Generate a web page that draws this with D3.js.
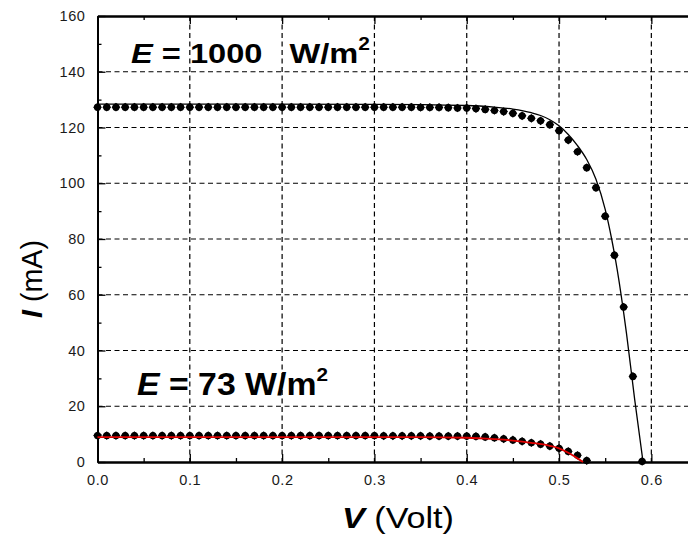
<!DOCTYPE html>
<html>
<head>
<meta charset="utf-8">
<script src="https://cdnjs.cloudflare.com/ajax/libs/d3/7.8.5/d3.min.js"></script>
<style>
  body { margin: 0; background: #fff; }
  svg { display: block; }
  text { font-family: "Liberation Sans", Arial, sans-serif; }
</style>
</head>
<body>
<script>
// measured points, E = 1000 W/m2
var voltHigh = [0.00, 0.01, 0.02, 0.03, 0.04, 0.05, 0.06, 0.07, 0.08, 0.09,
                0.10, 0.11, 0.12, 0.13, 0.14, 0.15, 0.16, 0.17, 0.18, 0.19,
                0.20, 0.21, 0.22, 0.23, 0.24, 0.25, 0.26, 0.27, 0.28, 0.29,
                0.30, 0.31, 0.32, 0.33, 0.34, 0.35, 0.36, 0.37, 0.38, 0.39,
                0.40, 0.41, 0.42, 0.43, 0.44, 0.45, 0.46, 0.47, 0.48, 0.49,
                0.50, 0.51, 0.52, 0.53, 0.54, 0.55, 0.56, 0.57, 0.58, 0.59];
var curHigh = [127.3, 127.3, 127.3, 127.3, 127.3, 127.3, 127.3, 127.3, 127.3, 127.3,
               127.3, 127.3, 127.3, 127.3, 127.3, 127.3, 127.3, 127.3, 127.3, 127.3,
               127.3, 127.3, 127.3, 127.3, 127.3, 127.3, 127.3, 127.3, 127.3, 127.3,
               127.3, 127.3, 127.3, 127.3, 127.3, 127.2, 127.2, 127.2, 127.1, 127.0,
               127.0, 126.8, 126.5, 126.1, 125.7, 125.1, 124.2, 123.3, 122.4, 121.0,
               118.8, 115.5, 111.3, 105.6, 98.4, 88.2, 74.2, 55.6, 30.7, 0.2];

// fitted curve, E = 1000 W/m2
var fitVoltHigh = [0.00, 0.30, 0.40, 0.43, 0.45, 0.47, 0.48, 0.49, 0.50, 0.51,
                   0.52, 0.53, 0.54, 0.55, 0.557, 0.563, 0.573, 0.582, 0.591];
var fitCurHigh = [128.4, 128.3, 127.9, 127.3, 126.6, 125.3, 124.3, 122.8, 120.6, 117.5,
                  113.5, 108.5, 101.4, 90.6, 80.0, 69.0, 46.3, 22.3, 0.0];

// measured points, E = 73 W/m2
var voltLow = [0.00, 0.01, 0.02, 0.03, 0.04, 0.05, 0.06, 0.07, 0.08, 0.09,
               0.10, 0.11, 0.12, 0.13, 0.14, 0.15, 0.16, 0.17, 0.18, 0.19,
               0.20, 0.21, 0.22, 0.23, 0.24, 0.25, 0.26, 0.27, 0.28, 0.29,
               0.30, 0.31, 0.32, 0.33, 0.34, 0.35, 0.36, 0.37, 0.38, 0.39,
               0.40, 0.41, 0.42, 0.43, 0.44, 0.45, 0.46, 0.47, 0.48, 0.49,
               0.50, 0.51, 0.52, 0.53];
var curLow = [9.5, 9.5, 9.5, 9.5, 9.5, 9.5, 9.5, 9.5, 9.5, 9.5,
              9.5, 9.5, 9.5, 9.5, 9.5, 9.5, 9.5, 9.5, 9.5, 9.5,
              9.5, 9.5, 9.5, 9.5, 9.5, 9.5, 9.5, 9.5, 9.5, 9.5,
              9.5, 9.4, 9.4, 9.4, 9.4, 9.4, 9.3, 9.3, 9.3, 9.3,
              9.3, 9.2, 9.0, 8.7, 8.3, 7.9, 7.4, 6.9, 6.4, 5.7,
              4.9, 3.8, 2.4, 0.5];

// fitted curve, E = 73 W/m2
var fitVoltLow = [0.00, 0.35, 0.40, 0.43, 0.45, 0.47, 0.49, 0.50, 0.51, 0.52, 0.526];
var fitCurLow = [8.9, 8.9, 8.7, 8.2, 7.7, 6.9, 5.8, 4.9, 3.3, 1.3, 0.0];

// ticks
var xTicks = [0.0, 0.1, 0.2, 0.3, 0.4, 0.5, 0.6];
var xMinor = [0.05, 0.15, 0.25, 0.35, 0.45, 0.55, 0.65];
var yTicks = [0, 20, 40, 60, 80, 100, 120, 140, 160];
var yMinor = [10, 30, 50, 70, 90, 110, 130, 150];

// set the dimensions and margins of the graph
var margin = {top: 16, right: 0, bottom: 75, left: 97.5},
    width = 600,
    height = 537 - margin.top - margin.bottom;

// set the ranges
var x = d3.scaleLinear().domain([0, 0.65]).range([0, width]);
var y = d3.scaleLinear().domain([0, 160]).range([height, 0]);

var svgRoot = d3.select("body").append("svg")
    .attr("width", 688)
    .attr("height", 537);

var svg = svgRoot.append("g")
    .attr("transform", "translate(" + margin.left + "," + margin.top + ")");

// dashed grid
svg.selectAll(".vgrid")
    .data(xTicks.filter(function(d) { return d > 0; }))
  .enter().append("line")
    .attr("x1", function(d) { return x(d); })
    .attr("x2", function(d) { return x(d); })
    .attr("y1", 0)
    .attr("y2", height)
    .attr("stroke", "#000")
    .attr("stroke-width", 1.2)
    .attr("stroke-dasharray", "5,3.5");

svg.selectAll(".hgrid")
    .data(yTicks.filter(function(d) { return d > 0 && d < 160; }))
  .enter().append("line")
    .attr("x1", 0)
    .attr("x2", width)
    .attr("y1", function(d) { return y(d); })
    .attr("y2", function(d) { return y(d); })
    .attr("stroke", "#000")
    .attr("stroke-width", 1.2)
    .attr("stroke-dasharray", "5,3.5");

// axes, ticks pointing inwards
function styleAxis(g) {
  g.select(".domain").attr("stroke-width", 2);
  g.selectAll(".tick line").attr("stroke-width", 1.3);
  g.selectAll("text")
      .attr("font-size", 14.5)
      .attr("fill", "#1a1a1a")
      .attr("font-family", "'Liberation Sans', Arial, sans-serif")
      .style("letter-spacing", "0.6px");
}

svg.append("g")
    .attr("transform", "translate(0," + height + ")")
    .call(d3.axisBottom(x).tickValues(xTicks).tickSizeInner(-8).tickSizeOuter(0)
          .tickPadding(13).tickFormat(d3.format(".1f")))
    .call(styleAxis);

svg.append("g")
    .attr("transform", "translate(0," + height + ")")
    .call(d3.axisBottom(x).tickValues(xMinor).tickSizeInner(-4).tickSizeOuter(0).tickFormat(""))
    .call(styleAxis);

svg.append("g")
    .call(d3.axisTop(x).tickValues(xTicks).tickSizeInner(-8).tickSizeOuter(0).tickFormat(""))
    .call(styleAxis);

svg.append("g")
    .call(d3.axisTop(x).tickValues(xMinor).tickSizeInner(-4).tickSizeOuter(0).tickFormat(""))
    .call(styleAxis);

svg.append("g")
    .call(d3.axisLeft(y).tickValues(yTicks).tickSizeInner(-8).tickSizeOuter(0).tickPadding(12))
    .call(styleAxis);

svg.append("g")
    .call(d3.axisLeft(y).tickValues(yMinor).tickSizeInner(-4).tickSizeOuter(0).tickFormat(""))
    .call(styleAxis);

// fitted lines
var fitLine = d3.line()
    .x(function(d) { return x(d[0]); })
    .y(function(d) { return y(d[1]); })
    .curve(d3.curveMonotoneX);

svg.append("path")
    .datum(d3.zip(fitVoltHigh, fitCurHigh))
    .attr("fill", "none")
    .attr("stroke", "#000")
    .attr("stroke-width", 1.3)
    .attr("d", fitLine);

// measured points (rounded diamonds)
var marker = d3.symbol().type(d3.symbolSquare).size(38);

function addPoints(vs, cs) {
  var g = svg.append("g").selectAll("g")
      .data(d3.zip(vs, cs))
    .enter().append("g")
      .attr("transform", function(d) {
        return "translate(" + x(d[0]) + "," + y(d[1]) + ")";
      });
  g.append("path")
      .attr("d", marker)
      .attr("fill", "#000")
      .attr("transform", "rotate(45)");
  g.append("circle")
      .attr("r", 3.6)
      .attr("fill", "#000");
}
addPoints(voltHigh, curHigh);
addPoints(voltLow, curLow);

// red fit drawn over the low-light points
svg.append("path")
    .datum(d3.zip(fitVoltLow, fitCurLow))
    .attr("fill", "none")
    .attr("stroke", "#e00000")
    .attr("stroke-width", 1.8)
    .attr("d", fitLine);

// irradiance labels
var lab1 = svgRoot.append("text")
    .attr("x", 131)
    .attr("y", 63)
    .attr("font-size", 28)
    .attr("font-weight", "bold")
    .attr("textLength", 239)
    .attr("lengthAdjust", "spacingAndGlyphs")
    .style("white-space", "pre");
lab1.append("tspan").attr("font-style", "italic").text("E");
lab1.append("tspan").text(" = 1000   W/m");
lab1.append("tspan").attr("font-size", 18).attr("dy", -13).text("2");

var lab2 = svgRoot.append("text")
    .attr("x", 137)
    .attr("y", 395)
    .attr("font-size", 31)
    .attr("font-weight", "bold")
    .attr("textLength", 191)
    .attr("lengthAdjust", "spacingAndGlyphs")
    .style("white-space", "pre");
lab2.append("tspan").attr("font-style", "italic").text("E");
lab2.append("tspan").text(" = 73 W/m");
lab2.append("tspan").attr("font-size", 19).attr("dy", -14).text("2");

// text label for the x axis
var xt = svgRoot.append("text")
    .attr("x", 342)
    .attr("y", 528)
    .attr("font-size", 30)
    .attr("textLength", 112)
    .attr("lengthAdjust", "spacingAndGlyphs");
xt.append("tspan").attr("font-weight", "bold").attr("font-style", "italic").text("V");
xt.append("tspan").text(" (Volt)");

// text label for the y axis
var yt = svgRoot.append("text")
    .attr("transform", "translate(42,318) rotate(-90)")
    .attr("font-size", 30)
    .attr("textLength", 78)
    .attr("lengthAdjust", "spacingAndGlyphs");
yt.append("tspan").attr("font-weight", "bold").attr("font-style", "italic").text("I");
yt.append("tspan").text(" (mA)");
</script>
</body>
</html>
